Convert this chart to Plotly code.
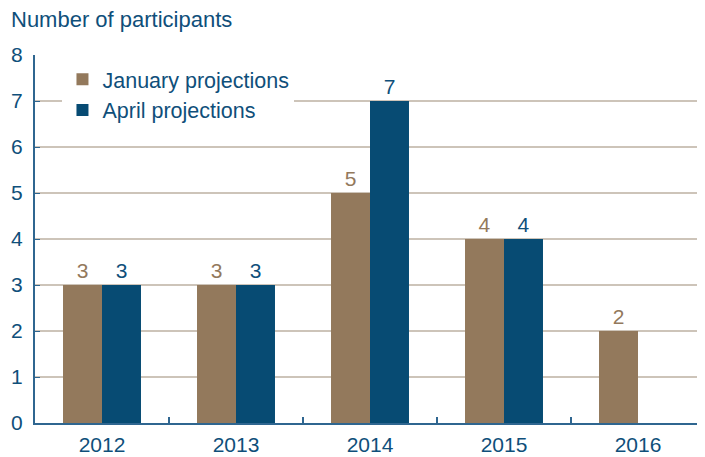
import plotly.graph_objects as go

years = ["2012", "2013", "2014", "2015", "2016"]
january = [3, 3, 5, 4, 2]
april = [3, 3, 7, 4, None]

TAN = "#93795c"
BLUE = "#074b73"
AXIS = "#2f6690"
TXT = "#0f4f7a"
FONT = "Liberation Sans, Arial, sans-serif"

fig = go.Figure()
fig.add_trace(go.Bar(name="January projections", x=years, y=january, marker_color=TAN,
                     marker_line_width=0, text=january, textposition="outside",
                     textfont=dict(color=TAN, size=21, family=FONT), cliponaxis=False))
fig.add_trace(go.Bar(name="April projections", x=years, y=april, marker_color=BLUE,
                     marker_line_width=0, text=[str(v) if v is not None else "" for v in april],
                     textposition="outside",
                     textfont=dict(color=TXT, size=21, family=FONT), cliponaxis=False))

fig.update_layout(
    width=697, height=449,
    margin=dict(l=27, r=0, t=47, b=34),
    paper_bgcolor="white", plot_bgcolor="white",
    barmode="group", bargap=0.418, bargroupgap=0,
    font=dict(family=FONT, size=21, color=TXT),
    showlegend=True,
    legend=dict(x=0.041, y=0.99, xanchor="left", yanchor="top", bgcolor="white",
                font=dict(size=21.5, color=TXT), traceorder="normal",
                borderwidth=0, tracegroupgap=0, itemwidth=30),
    annotations=[dict(text="Number of participants", xref="paper", yref="paper",
                      x=0, xshift=-26, y=1, yshift=21, xanchor="left", yanchor="bottom",
                      showarrow=False, font=dict(size=22, color=TXT, family=FONT))],
    uniformtext=dict(minsize=18, mode="show"),
)
fig.update_xaxes(showline=True, linecolor=AXIS, linewidth=2, showgrid=False,
                 ticks="inside", tickcolor=AXIS, ticklen=6, tickwidth=2,
                 tickson="boundaries", ticklabelstandoff=2, tickfont=dict(size=21, color=TXT))
fig.update_yaxes(range=[0, 8], dtick=1, showline=True, linecolor=AXIS, linewidth=2,
                 showgrid=True, gridcolor="#cdc4b9", gridwidth=2, zeroline=False,
                 ticks="inside", tickcolor=AXIS, ticklen=5, tickwidth=1,
                 ticklabelstandoff=6, tickfont=dict(size=21, color=TXT))

fig.write_html("out.html")
